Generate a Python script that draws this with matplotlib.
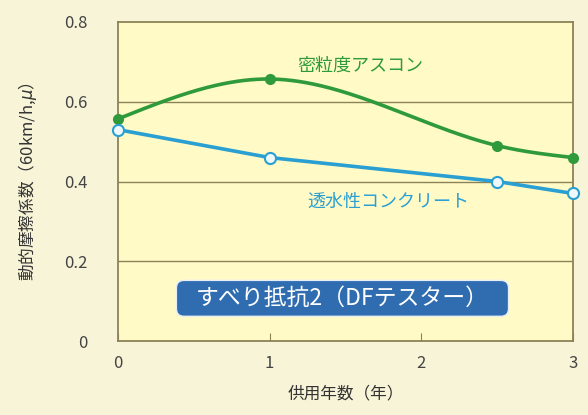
import matplotlib.pyplot as plt
from matplotlib.patches import FancyBboxPatch
import numpy as np

plt.rcParams['font.family'] = ['Noto Sans CJK JP', 'DejaVu Sans']

# データ
years = [0, 1, 2.5, 3]
asucon = [0.557, 0.657, 0.49, 0.46]      # 密粒度アスコン
concrete = [0.53, 0.46, 0.40, 0.37]      # 透水性コンクリート

xticks = [0, 1, 2, 3]
yticks = [0, 0.2, 0.4, 0.6, 0.8]
ytick_labels = ['0', '0.2', '0.4', '0.6', '0.8']


def natural_spline(x, y, n=200):
    # 自然3次スプラインで線をなめらかに描く
    x = np.asarray(x, float)
    y = np.asarray(y, float)
    k = len(x)
    h = np.diff(x)
    A = np.zeros((k, k))
    b = np.zeros(k)
    A[0, 0] = A[-1, -1] = 1
    for i in range(1, k - 1):
        A[i, i - 1] = h[i - 1]
        A[i, i] = 2 * (h[i - 1] + h[i])
        A[i, i + 1] = h[i]
        b[i] = 6 * ((y[i + 1] - y[i]) / h[i] - (y[i] - y[i - 1]) / h[i - 1])
    M = np.linalg.solve(A, b)
    xs = np.linspace(x[0], x[-1], n)
    ys = np.empty_like(xs)
    for j, t in enumerate(xs):
        i = min(np.searchsorted(x, t, side='right') - 1, k - 2)
        d = h[i]
        a1 = x[i + 1] - t
        a2 = t - x[i]
        ys[j] = (M[i] * a1 ** 3 / (6 * d) + M[i + 1] * a2 ** 3 / (6 * d)
                 + (y[i] / d - M[i] * d / 6) * a1 + (y[i + 1] / d - M[i + 1] * d / 6) * a2)
    return xs, ys


green = '#2f9a3c'
blue = '#2a9fd2'
grid_c = '#8c8257'

fig = plt.figure(figsize=(5.88, 4.15), dpi=100, facecolor='#f8f4d8')
ax = fig.add_axes([0.2007, 0.1783, 0.7738, 0.7687])
ax.set_facecolor('#fffac6')

ax.set_xlim(0, 3)
ax.set_ylim(0, 0.8)

for yv in yticks[1:-1]:
    ax.axhline(yv, color=grid_c, lw=1.0, zorder=1)

gx, gy = natural_spline(years, asucon)
ax.plot(gx, gy, color=green, lw=2.6, zorder=3)
ax.plot(years, asucon, 'o', color=green, ms=7, zorder=4, clip_on=False)

ax.plot(years, concrete, color=blue, lw=2.6, zorder=3)
ax.plot(years, concrete, 'o', mfc='#eef8fb', mec=blue, mew=1.5, ms=8, zorder=4, clip_on=False)

for s in ax.spines.values():
    s.set_color(grid_c)
    s.set_linewidth(1.3)

ax.set_xticks(xticks)
ax.set_yticks(yticks)
ax.set_yticklabels(ytick_labels)
ax.tick_params(axis='x', direction='in', length=6, color=grid_c, pad=10,
               labelsize=12, labelcolor='#444444')
ax.tick_params(axis='y', length=0, pad=22, labelsize=12, labelcolor='#444444')

ax.set_xlabel('供用年数（年）', fontsize=12, color='#333333', labelpad=10)
ax.set_ylabel('動的摩擦係数（60km/h,$\\mu$）', fontsize=12, color='#333333', labelpad=18)

ax.text(1.6, 0.69, '密粒度アスコン', color=green, fontsize=13, ha='center', va='center')
ax.text(1.78, 0.35, '透水性コンクリート', color=blue, fontsize=13, ha='center', va='center')

box = FancyBboxPatch((0.385, 0.062), 2.19, 0.09,
                     boxstyle='round,pad=0,rounding_size=0.05',
                     fc='#2f6db0', ec='#e8eef5', lw=1.0, zorder=5,
                     mutation_aspect=0.38)
ax.add_patch(box)
ax.text(1.48, 0.106, 'すべり抵抗2（DFテスター）', color='white', fontsize=16.5,
        ha='center', va='center', zorder=6)

fig.savefig('out.png', dpi=100, facecolor=fig.get_facecolor())
